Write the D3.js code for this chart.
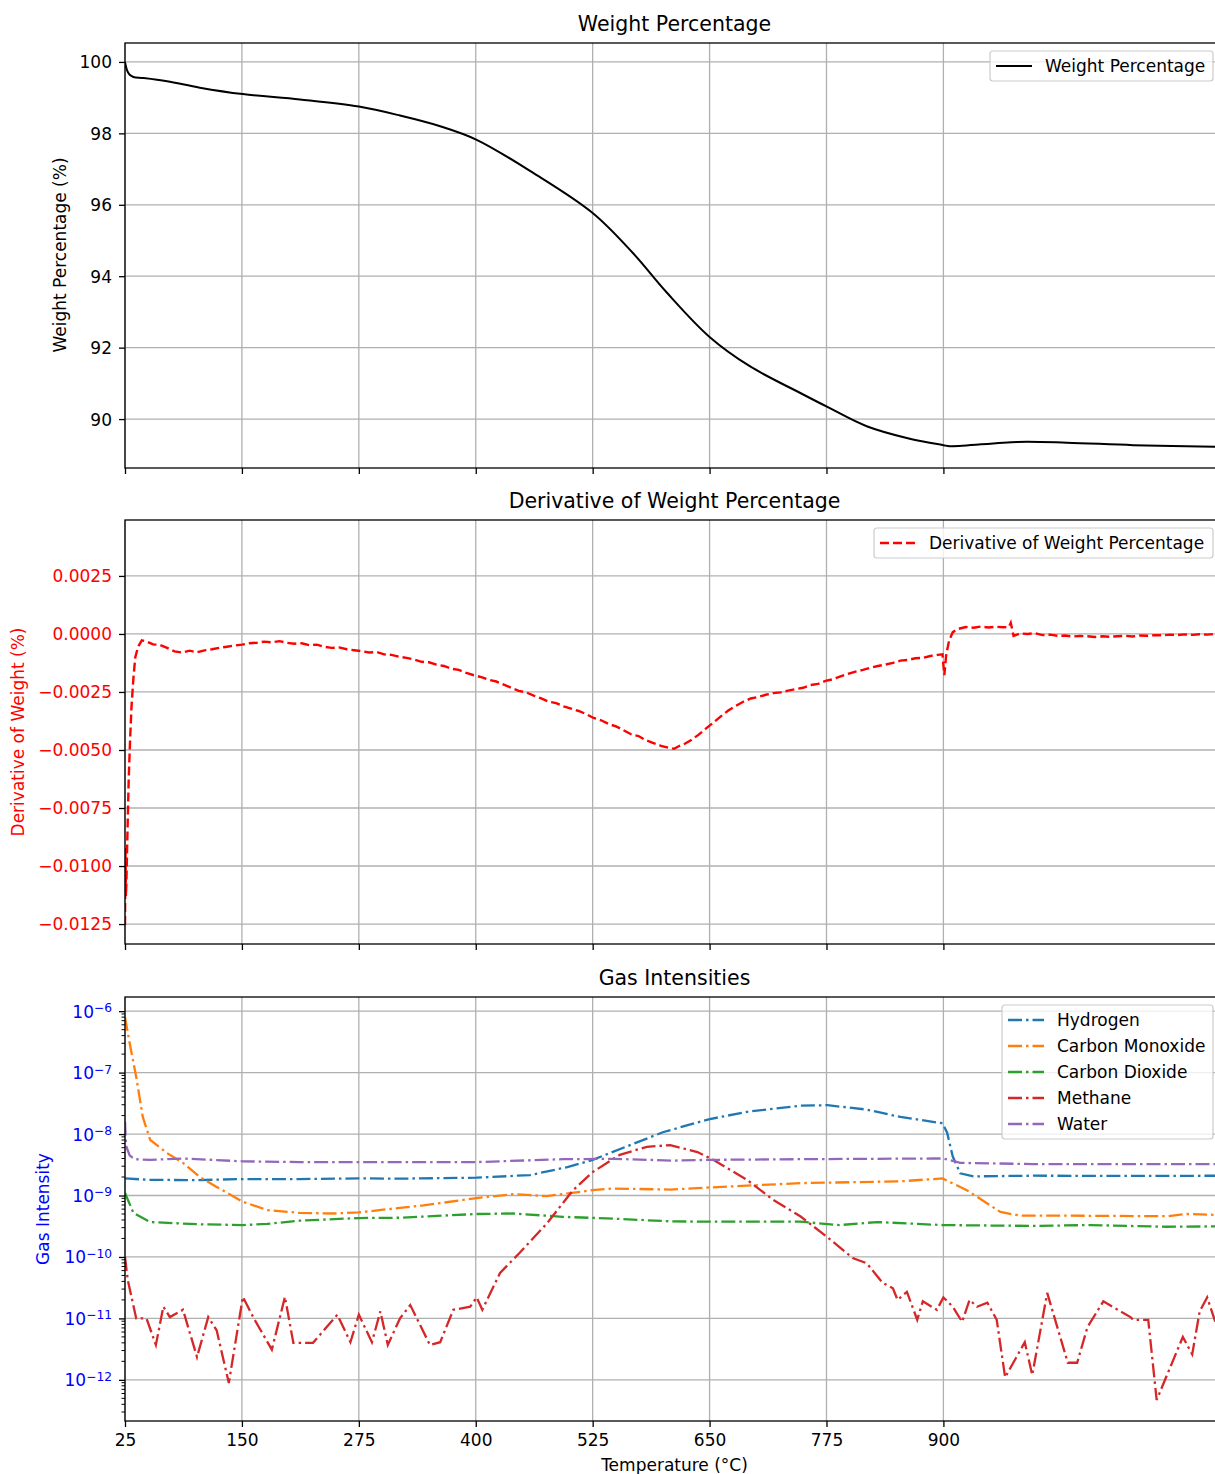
<!DOCTYPE html>
<html>
<head>
<meta charset="utf-8">
<script src="https://cdn.jsdelivr.net/npm/d3@7"></script>
<style>
body { margin: 0; background: #fff; }
svg { display: block; font-family: "DejaVu Sans", sans-serif; }
</style>
</head>
<body>
<svg id="chart"></svg>
<script>
// ---- data ----
var xTicks = [25, 150, 275, 400, 525, 650, 775, 900];

var weightTemp = [25, 27, 30, 34, 45, 70, 105, 151, 212, 275, 319, 362, 401, 461, 525, 568, 604, 650, 693, 747, 776, 818, 864, 900, 907, 979, 1032, 1103, 1200];
var weightPct = [100.0, 99.78, 99.64, 99.58, 99.55, 99.46, 99.28, 99.10, 98.95, 98.75, 98.50, 98.2, 97.82, 96.9, 95.77, 94.65, 93.55, 92.3, 91.48, 90.73, 90.34, 89.8, 89.45, 89.27, 89.24, 89.36, 89.34, 89.27, 89.22];

var derivTemp = [25, 25.5, 26, 26.5, 27.5, 29, 30.5, 32, 34, 36, 39, 43, 48, 55, 62, 70, 78, 86, 94, 102, 110, 118, 126, 134, 142, 150, 158, 166, 174, 182, 190, 198, 206, 214, 222, 230, 238, 246, 254, 262, 270, 278, 286, 294, 302, 310, 318, 326, 334, 342, 350, 358, 366, 374, 382, 390, 398, 406, 414, 422, 430, 438, 446, 454, 462, 470, 478, 486, 494, 502, 510, 518, 526, 534, 542, 550, 558, 566, 574, 582, 590, 598, 606, 612, 618, 624, 630, 638, 646, 654, 662, 670, 678, 686, 694, 702, 710, 718, 726, 734, 742, 750, 758, 766, 774, 782, 790, 798, 806, 814, 822, 830, 838, 846, 854, 862, 870, 878, 886, 894, 899, 901, 903, 906, 910, 916, 924, 932, 940, 948, 956, 964, 970, 972, 975, 982, 990, 998, 1006, 1014, 1022, 1030, 1038, 1046, 1054, 1062, 1070, 1078, 1086, 1094, 1102, 1110, 1118, 1126, 1134, 1142, 1150, 1158, 1166, 1174, 1182, 1190, 1200];
var derivVal = [-0.01254, -0.0092, -0.0113, -0.0107, -0.0088, -0.0062, -0.0045, -0.0031, -0.0019, -0.0010, -0.00055, -0.00028, -0.00032, -0.00045, -0.00047, -0.0006, -0.00075, -0.0008, -0.00072, -0.00079, -0.00071, -0.00066, -0.0006, -0.00055, -0.0005, -0.00046, -0.0004, -0.00038, -0.00033, -0.00036, -0.00031, -0.00038, -0.00042, -0.0004, -0.00048, -0.00046, -0.00055, -0.0006, -0.00058, -0.00066, -0.0007, -0.00074, -0.0008, -0.00078, -0.00088, -0.0009, -0.00098, -0.00103, -0.0011, -0.0012, -0.00122, -0.00132, -0.00138, -0.0015, -0.00155, -0.00168, -0.00178, -0.00186, -0.00198, -0.00205, -0.00218, -0.00232, -0.00245, -0.00252, -0.00266, -0.00278, -0.00292, -0.00298, -0.00312, -0.00322, -0.00332, -0.00345, -0.00362, -0.00372, -0.00388, -0.00398, -0.00415, -0.00432, -0.0044, -0.00458, -0.0047, -0.00482, -0.0049, -0.00495, -0.00482, -0.00472, -0.00458, -0.00435, -0.00408, -0.00382, -0.00355, -0.0033, -0.0031, -0.00292, -0.00278, -0.00272, -0.00262, -0.00255, -0.00252, -0.00244, -0.00238, -0.00232, -0.0022, -0.00215, -0.00202, -0.00195, -0.00183, -0.00172, -0.00162, -0.00155, -0.00146, -0.00138, -0.00132, -0.00125, -0.00115, -0.00112, -0.00105, -0.00103, -0.00095, -0.0009, -0.00088, -0.00178, -0.0009, -0.0003, 0.00008, 0.00022, 0.0003, 0.00027, 0.00032, 0.00028, 0.00031, 0.00029, 0.0003, 0.00048, -0.00008, 0.00002, 0.0, 0.00003, -0.00005, -0.00003, -0.00008, -0.00007, -0.00011, -0.00009, -0.0001, -0.00013, -0.0001, -0.00012, -0.0001, -0.00008, -0.00011, -0.00007, -0.00008, -0.00005, -0.00006, -0.00003, -0.00005, -0.00002, -0.00004, -0.00001, -0.00003, 0.0, -0.00002];

var h2Temp = [25, 50, 100, 151, 212, 275, 319, 401, 458, 498, 525, 565, 600, 649, 690, 747, 776, 818, 854, 899, 904, 910, 918, 932, 996, 1100, 1200];
var h2Val = [1.9e-9, 1.8e-9, 1.78e-9, 1.85e-9, 1.85e-9, 1.9e-9, 1.88e-9, 1.95e-9, 2.15e-9, 2.9e-9, 3.8e-9, 6.6e-9, 1.07e-8, 1.74e-8, 2.3e-8, 2.9e-8, 2.95e-8, 2.5e-8, 1.9e-8, 1.5e-8, 1.05e-8, 4.3e-9, 2.3e-9, 2.05e-9, 2.1e-9, 2.08e-9, 2.1e-9];

var coTemp = [25, 30, 37, 44, 52, 70, 87, 105, 123, 151, 177, 212, 247, 275, 319, 344, 401, 440, 476, 525, 547, 608, 649, 747, 854, 899, 925, 961, 982, 1032, 1139, 1160, 1200];
var coVal = [8e-7, 3e-7, 8.5e-8, 1.9e-8, 8e-9, 4.9e-9, 3.4e-9, 2.0e-9, 1.38e-9, 7.9e-10, 5.8e-10, 5.2e-10, 5.1e-10, 5.3e-10, 6.3e-10, 6.9e-10, 9.1e-10, 1.05e-9, 9.8e-10, 1.22e-9, 1.3e-9, 1.25e-9, 1.35e-9, 1.59e-9, 1.7e-9, 1.9e-9, 1.22e-9, 5.4e-10, 4.7e-10, 4.7e-10, 4.6e-10, 5e-10, 4.8e-10];

var co2Temp = [25, 34, 52, 105, 151, 177, 212, 275, 319, 401, 440, 493, 547, 608, 649, 747, 789, 829, 900, 996, 1057, 1139, 1200];
var co2Val = [1.1e-9, 5.2e-10, 3.7e-10, 3.4e-10, 3.3e-10, 3.45e-10, 3.9e-10, 4.3e-10, 4.35e-10, 5e-10, 5.1e-10, 4.5e-10, 4.2e-10, 3.8e-10, 3.75e-10, 3.75e-10, 3.3e-10, 3.7e-10, 3.3e-10, 3.2e-10, 3.3e-10, 3.1e-10, 3.15e-10];

var ch4Temp = [25, 28, 37, 48, 58, 66, 73, 87, 102, 114, 123, 136, 151, 162, 182, 196, 205, 226, 252, 266, 275, 289, 298, 306, 319, 330, 351, 362, 376, 394, 401, 407, 426, 447, 476, 504, 525, 554, 583, 608, 637, 654, 690, 718, 747, 776, 803, 818, 835, 846, 851, 861, 872, 878, 893, 900, 910, 920, 928, 936, 947, 957, 966, 987, 995, 1011, 1033, 1043, 1054, 1071, 1100, 1103, 1119, 1128, 1156, 1166, 1174, 1182, 1191, 1200];
var ch4Val = [1e-10, 4.2e-11, 1.0e-11, 1.0e-11, 3.7e-12, 1.55e-11, 1.05e-11, 1.38e-11, 2.35e-12, 1.05e-11, 6.4e-12, 8.9e-13, 2.24e-11, 1.05e-11, 3.1e-12, 2.24e-11, 4e-12, 4e-12, 1.15e-11, 4.1e-12, 1.15e-11, 4.1e-12, 1.3e-11, 3.7e-12, 1.0e-11, 1.65e-11, 3.7e-12, 4.1e-12, 1.38e-11, 1.55e-11, 2.2e-11, 1.38e-11, 5.5e-11, 1.17e-10, 3.5e-10, 1.22e-9, 2.4e-9, 4.6e-9, 6.2e-9, 6.6e-9, 5.1e-9, 3.8e-9, 1.8e-9, 8.5e-10, 4.6e-10, 2.1e-10, 9.6e-11, 7.9e-11, 3.8e-11, 3.1e-11, 2.0e-11, 2.7e-11, 9.5e-12, 1.9e-11, 1.38e-11, 2.2e-11, 1.55e-11, 8.8e-12, 2.0e-11, 1.55e-11, 1.8e-11, 9.5e-12, 1.1e-12, 4.1e-12, 1.2e-12, 2.6e-11, 1.9e-12, 1.9e-12, 7.2e-12, 1.9e-11, 1.05e-11, 9.5e-12, 9.5e-12, 4.7e-13, 5e-12, 2.6e-12, 1.3e-11, 2.2e-11, 8.5e-12, 6e-12];

var h2oTemp = [25, 26, 30, 35, 52, 87, 151, 212, 319, 401, 493, 547, 611, 649, 747, 889, 900, 918, 996, 1200];
var h2oVal = [1.6e-8, 6.5e-9, 4.5e-9, 3.9e-9, 3.8e-9, 4.0e-9, 3.6e-9, 3.5e-9, 3.5e-9, 3.5e-9, 3.9e-9, 3.95e-9, 3.7e-9, 3.8e-9, 3.9e-9, 4.0e-9, 4.0e-9, 3.4e-9, 3.25e-9, 3.25e-9];

var gasNames = ["Hydrogen", "Carbon Monoxide", "Carbon Dioxide", "Methane", "Water"];
var gasColors = ["#1f77b4", "#ff7f0e", "#2ca02c", "#d62728", "#9467bd"];

// ---- layout ----
var W = 1215, H = 1474;
var left = 125, right = 1224;
var tickFont = 17, titleFont = 20.5;

var svg = d3.select("#chart")
  .attr("width", W)
  .attr("height", H);

var x = d3.scaleLinear().domain([25, 1200]).range([left, right]);

function zip(t, v) {
  return t.map(function(d, i) { return {t: d, v: v[i]}; });
}

// draws grid, clip and title for one panel
function panel(top, bottom, title, id) {
  var g = svg.append("g");

  g.append("clipPath").attr("id", id)
    .append("rect")
    .attr("x", left).attr("y", top)
    .attr("width", right - left).attr("height", bottom - top);

  // vertical grid
  g.selectAll(".vgrid")
    .data(xTicks)
    .enter()
    .append("line")
    .attr("x1", function(d) { return x(d); })
    .attr("x2", function(d) { return x(d); })
    .attr("y1", top).attr("y2", bottom)
    .attr("stroke", "#b0b0b0")
    .attr("stroke-width", 1.3);

  g.append("text")
    .attr("x", (left + right) / 2)
    .attr("y", top - 12)
    .attr("text-anchor", "middle")
    .attr("font-size", titleFont)
    .attr("fill", "#000")
    .text(title);

  return g;
}

function hgrid(g, y, vals) {
  g.selectAll(".hgrid")
    .data(vals)
    .enter()
    .append("line")
    .attr("x1", left).attr("x2", right)
    .attr("y1", function(d) { return y(d); })
    .attr("y2", function(d) { return y(d); })
    .attr("stroke", "#b0b0b0")
    .attr("stroke-width", 1.3);
}

function frame(g, top, bottom, showLabels) {
  g.append("rect")
    .attr("x", left).attr("y", top)
    .attr("width", right - left).attr("height", bottom - top)
    .attr("fill", "none")
    .attr("stroke", "#000")
    .attr("stroke-width", 1.3);

  var ax = g.append("g")
    .attr("transform", "translate(0," + bottom + ")")
    .call(d3.axisBottom(x).tickValues(xTicks).tickSize(6).tickPadding(7).tickSizeOuter(0)
      .tickFormat(showLabels ? d3.format("d") : ""));
  ax.select(".domain").remove();
  ax.selectAll("line").attr("stroke", "#000").attr("stroke-width", 1.3);
  ax.selectAll("text").attr("font-size", tickFont).attr("font-family", "DejaVu Sans").attr("fill", "#000");
}

function styleY(ax, color) {
  ax.select(".domain").remove();
  ax.selectAll("line").attr("stroke", "#000").attr("stroke-width", 1.3);
  ax.selectAll("text")
    .attr("font-size", tickFont)
    .attr("font-family", "DejaVu Sans")
    .attr("fill", color)
    .attr("dy", "0.35em");
}

function ylabel(text, cx, cy, color) {
  svg.append("text")
    .attr("transform", "translate(" + cx + "," + cy + ") rotate(-90)")
    .attr("dy", "0.35em")
    .attr("text-anchor", "middle")
    .attr("font-size", tickFont)
    .attr("fill", color)
    .text(text);
}

function legend(g, x0, y0, w, items) {
  var rowH = 26;
  g.append("rect")
    .attr("x", x0).attr("y", y0)
    .attr("width", w).attr("height", items.length * rowH + 4)
    .attr("rx", 3)
    .attr("fill", "#fff").attr("fill-opacity", 0.8)
    .attr("stroke", "#cccccc").attr("stroke-width", 1.2);
  items.forEach(function(it, i) {
    var yy = y0 + 15 + i * rowH;
    g.append("line")
      .attr("x1", x0 + 6).attr("x2", x0 + 42)
      .attr("y1", yy).attr("y2", yy)
      .attr("stroke", it.color)
      .attr("stroke-width", it.width)
      .attr("stroke-dasharray", it.dash);
    g.append("text")
      .attr("x", x0 + 55).attr("y", yy)
      .attr("dy", "0.35em")
      .attr("font-size", tickFont)
      .attr("fill", "#000")
      .text(it.name);
  });
}

// ---- panel 1: weight percentage ----
var p1 = panel(43, 468, "Weight Percentage", "clip1");
var y1 = d3.scaleLinear().domain([88.63, 100.53]).range([468, 43]);
var y1Ticks = [90, 92, 94, 96, 98, 100];
hgrid(p1, y1, y1Ticks);

p1.append("path")
  .datum(zip(weightTemp, weightPct))
  .attr("clip-path", "url(#clip1)")
  .attr("fill", "none")
  .attr("stroke", "#000")
  .attr("stroke-width", 2)
  .attr("d", d3.line()
    .x(function(d) { return x(d.t); })
    .y(function(d) { return y1(d.v); })
    .curve(d3.curveCatmullRom.alpha(0.5)));

frame(p1, 43, 468, false);
styleY(p1.append("g")
  .attr("transform", "translate(" + left + ",0)")
  .call(d3.axisLeft(y1).tickValues(y1Ticks).tickSize(6).tickPadding(7)), "#000");
ylabel("Weight Percentage (%)", 60, 255, "#000");
legend(p1, 990, 51, 223, [{name: "Weight Percentage", color: "#000", width: 2, dash: null}]);

// ---- panel 2: derivative ----
var p2 = panel(520, 944, "Derivative of Weight Percentage", "clip2");
var y2 = d3.scaleLinear().domain([-0.01336, 0.00491]).range([944, 520]);
var y2Ticks = [-0.0125, -0.01, -0.0075, -0.005, -0.0025, 0, 0.0025];
hgrid(p2, y2, y2Ticks);

p2.append("path")
  .datum(zip(derivTemp, derivVal))
  .attr("clip-path", "url(#clip2)")
  .attr("fill", "none")
  .attr("stroke", "#ff0000")
  .attr("stroke-width", 2.4)
  .attr("stroke-dasharray", "9,4")
  .attr("d", d3.line()
    .x(function(d) { return x(d.t); })
    .y(function(d) { return y2(d.v); }));

frame(p2, 520, 944, false);
styleY(p2.append("g")
  .attr("transform", "translate(" + left + ",0)")
  .call(d3.axisLeft(y2).tickValues(y2Ticks).tickSize(6).tickPadding(7)
    .tickFormat(function(d) { return d3.format(".4f")(d).replace("-", "\u2212"); })), "#ff0000");
ylabel("Derivative of Weight (%)", 18, 732, "#ff0000");
legend(p2, 874, 528, 339, [{name: "Derivative of Weight Percentage", color: "#ff0000", width: 2.4, dash: "9,4"}]);

// ---- panel 3: gases (log) ----
var p3 = panel(997, 1421, "Gas Intensities", "clip3");
var y3 = d3.scaleLog().domain([2.14e-13, 1.7e-6]).range([1421, 997]);
var y3Ticks = [1e-12, 1e-11, 1e-10, 1e-9, 1e-8, 1e-7, 1e-6];
hgrid(p3, y3, y3Ticks);

var gasSeries = [zip(h2Temp, h2Val), zip(coTemp, coVal), zip(co2Temp, co2Val), zip(ch4Temp, ch4Val), zip(h2oTemp, h2oVal)];
var gasLine = d3.line()
  .x(function(d) { return x(d.t); })
  .y(function(d) { return y3(d.v); });

p3.selectAll(".gas")
  .data(gasSeries)
  .enter()
  .append("path")
  .attr("clip-path", "url(#clip3)")
  .attr("fill", "none")
  .attr("stroke", function(d, i) { return gasColors[i]; })
  .attr("stroke-width", 2.3)
  .attr("stroke-dasharray", "14,4,2.5,4")
  .attr("d", gasLine);

frame(p3, 997, 1421, true);

// minor log ticks
var minor = [];
for (var e = -13; e <= -6; e++) {
  for (var m = 2; m <= 9; m++) {
    var v = m * Math.pow(10, e);
    if (v > 2.14e-13 && v < 1.7e-6) minor.push(v);
  }
}
p3.selectAll(".minor")
  .data(minor)
  .enter()
  .append("line")
  .attr("x1", left - 3.5).attr("x2", left)
  .attr("y1", function(d) { return y3(d); })
  .attr("y2", function(d) { return y3(d); })
  .attr("stroke", "#000")
  .attr("stroke-width", 1);

var ax3 = p3.append("g")
  .attr("transform", "translate(" + left + ",0)")
  .call(d3.axisLeft(y3).tickValues(y3Ticks).tickSize(6).tickPadding(7).tickFormat(""));
styleY(ax3, "#0000ff");
ax3.selectAll("text").each(function(d) {
  var t = d3.select(this);
  var ex = Math.round(Math.log10(d));
  t.text("10");
  t.append("tspan")
    .attr("dy", "-0.45em")
    .attr("font-size", tickFont * 0.72)
    .text("\u2212" + (-ex));
});
ylabel("Gas Intensity", 43, 1209, "#0000ff");

legend(p3, 1002, 1005, 211, gasNames.map(function(n, i) {
  return {name: n, color: gasColors[i], width: 2.3, dash: "14,4,2.5,4"};
}));

// x label
svg.append("text")
  .attr("x", (left + right) / 2)
  .attr("y", 1471)
  .attr("text-anchor", "middle")
  .attr("font-size", tickFont)
  .attr("fill", "#000")
  .text("Temperature (\u00B0C)");
</script>
</body>
</html>
